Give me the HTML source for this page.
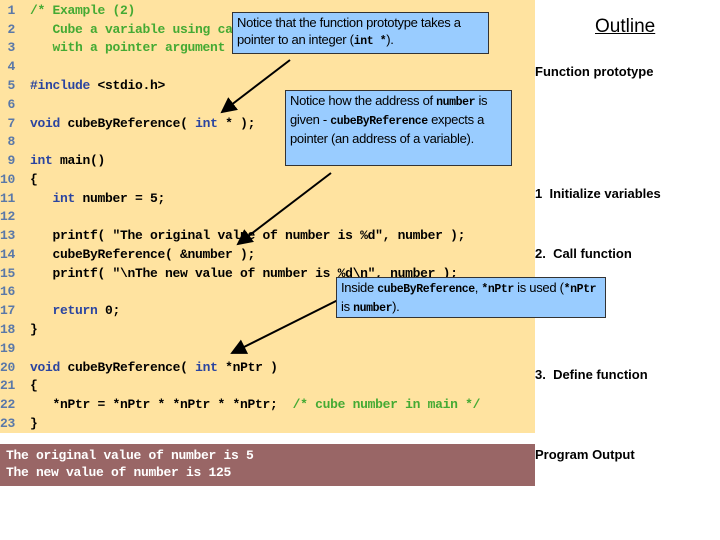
<!DOCTYPE html>
<html><head><style>
body{margin:0;width:720px;height:540px;background:#fff;position:relative;overflow:hidden;font-family:"Liberation Sans",sans-serif}
#code{position:absolute;left:0;top:0;width:535px;height:433px;background:#ffe3a0}
#out{position:absolute;left:0;top:444px;width:535px;height:42px;background:#996666}
.l{position:absolute;left:0;font-family:"Liberation Mono",monospace;font-weight:bold;font-size:13px;letter-spacing:-0.3px;white-space:pre;color:#000;line-height:14px}
.n{color:#5a78a8}.k{color:#2a44a0}.c{color:#44aa33}
.box{position:absolute;background:#99ccff;border:1px solid #333;font-size:13px;letter-spacing:-0.3px;line-height:17px;padding:1px 4px;box-sizing:border-box}
.box b{font-family:"Liberation Mono",monospace;font-size:11.5px;letter-spacing:-0.4px}
.r{position:absolute;left:535px;font-size:13px;font-weight:bold}
</style></head><body>
<div id="code"></div><div id="out"></div>
<div class="l" style="top:4px"><span class="n"> 1</span>  <span class="c">/* Example (2)</span></div>
<div class="l" style="top:23px"><span class="n"> 2</span>  <span class="c">   Cube a variable using call-by-reference</span></div>
<div class="l" style="top:41px"><span class="n"> 3</span>  <span class="c">   with a pointer argument */</span></div>
<div class="l" style="top:60px"><span class="n"> 4</span></div>
<div class="l" style="top:79px"><span class="n"> 5</span>  <span class="k">#include</span> &lt;stdio.h&gt;</div>
<div class="l" style="top:98px"><span class="n"> 6</span></div>
<div class="l" style="top:117px"><span class="n"> 7</span>  <span class="k">void</span> cubeByReference( <span class="k">int</span> * );    <span class="c">/* prototype */</span></div>
<div class="l" style="top:135px"><span class="n"> 8</span></div>
<div class="l" style="top:154px"><span class="n"> 9</span>  <span class="k">int</span> main()</div>
<div class="l" style="top:173px"><span class="n">10</span>  {</div>
<div class="l" style="top:192px"><span class="n">11</span>     <span class="k">int</span> number = 5;</div>
<div class="l" style="top:210px"><span class="n">12</span></div>
<div class="l" style="top:229px"><span class="n">13</span>     printf( "The original value of number is %d", number );</div>
<div class="l" style="top:248px"><span class="n">14</span>     cubeByReference( &amp;number );</div>
<div class="l" style="top:267px"><span class="n">15</span>     printf( "\nThe new value of number is %d\n", number );</div>
<div class="l" style="top:285px"><span class="n">16</span></div>
<div class="l" style="top:304px"><span class="n">17</span>     <span class="k">return</span> 0;</div>
<div class="l" style="top:323px"><span class="n">18</span>  }</div>
<div class="l" style="top:342px"><span class="n">19</span></div>
<div class="l" style="top:361px"><span class="n">20</span>  <span class="k">void</span> cubeByReference( <span class="k">int</span> *nPtr )</div>
<div class="l" style="top:379px"><span class="n">21</span>  {</div>
<div class="l" style="top:398px"><span class="n">22</span>     *nPtr = *nPtr * *nPtr * *nPtr;  <span class="c">/* cube number in main */</span></div>
<div class="l" style="top:417px"><span class="n">23</span>  }</div>
<div class="l" style="top:449px;color:#fff;left:6px">The original value of number is 5</div>
<div class="l" style="top:466px;color:#fff;left:6px">The new value of number is 125</div>
<svg style="position:absolute;left:0;top:0" width="720" height="540">
<defs><marker id="a" markerWidth="8" markerHeight="8" refX="7" refY="4" orient="auto"><path d="M0,0 L8,4 L0,8 z"/></marker></defs>
<line x1="290" y1="60" x2="222" y2="112" stroke="#000" stroke-width="2" marker-end="url(#a)"/>
<line x1="331" y1="173" x2="238" y2="244" stroke="#000" stroke-width="2" marker-end="url(#a)"/>
<line x1="340" y1="299" x2="232" y2="353" stroke="#000" stroke-width="2" marker-end="url(#a)"/>
</svg>
<div class="box" style="left:232px;top:12px;width:257px;height:42px">Notice that the function prototype takes a pointer to an integer (<b>int *</b>).</div>
<div class="box" style="left:285px;top:90px;width:227px;height:76px">Notice how the address of <b>number</b> is given - <b>cubeByReference</b> expects a pointer (an address of a variable).</div>
<div class="box" style="left:336px;top:277px;width:270px;height:41px">Inside <b>cubeByReference</b>, <b>*nPtr</b> is used (<b>*nPtr</b> is <b>number</b>).</div>
<div style="position:absolute;left:595px;top:16px;font-size:19px;text-decoration:underline">Outline</div>
<div class="r" style="top:64px">Function prototype</div>
<div class="r" style="top:186px">1&nbsp; Initialize variables</div>
<div class="r" style="top:246px">2.&nbsp; Call function</div>
<div class="r" style="top:367px">3.&nbsp; Define function</div>
<div class="r" style="top:447px">Program Output</div>
</body></html>
